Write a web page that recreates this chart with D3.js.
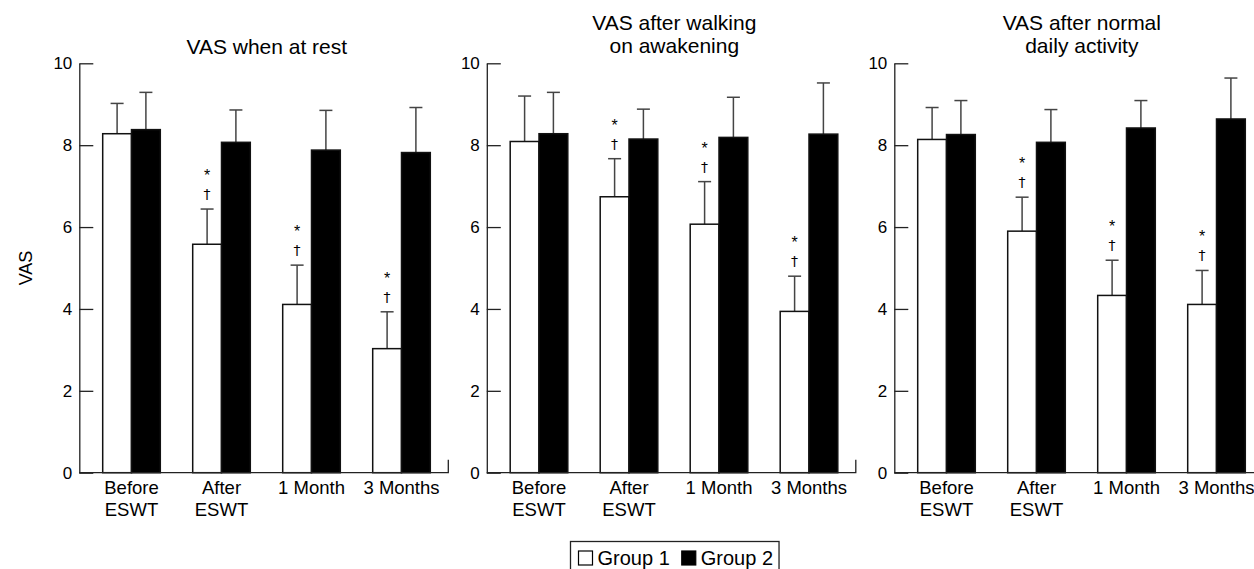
<!DOCTYPE html>
<html>
<head>
<meta charset="utf-8">
<script src="https://cdn.jsdelivr.net/npm/d3@7"></script>
<style>
body { margin: 0; background: #fff; }
text { font-family: "Liberation Sans", Arial, Helvetica, sans-serif; fill: #000; }
</style>
</head>
<body>
<svg id="chart" width="1254" height="569"></svg>
<script>
// categories, groups and panel titles
var categories = ["Before ESWT", "After ESWT", "1 Month", "3 Months"];
var catLines = [["Before", "ESWT"], ["After", "ESWT"], ["1 Month"], ["3 Months"]];
var groups = ["Group 1", "Group 2"];
var titles = [["VAS when at rest"], ["VAS after walking", "on awakening"], ["VAS after normal", "daily activity"]];

// mean VAS values
var restG1 = [8.28, 5.58, 4.11, 3.03];
var restG2 = [8.38, 8.07, 7.88, 7.82];
var walkG1 = [8.09, 6.74, 6.07, 3.94];
var walkG2 = [8.28, 8.15, 8.19, 8.27];
var dailyG1 = [8.14, 5.90, 4.33, 4.11];
var dailyG2 = [8.26, 8.07, 8.42, 8.64];

// standard deviations (upper error bars)
var restG1sd = [0.74, 0.86, 0.96, 0.90];
var restG2sd = [0.91, 0.79, 0.97, 1.10];
var walkG1sd = [1.11, 0.93, 1.04, 0.86];
var walkG2sd = [1.01, 0.73, 0.98, 1.25];
var dailyG1sd = [0.78, 0.83, 0.86, 0.83];
var dailyG2sd = [0.83, 0.80, 0.67, 1.00];

// significance marks (* and †) above group 1 bars
var signif = [false, true, true, true];

var yTicks = [0, 2, 4, 6, 8, 10];

var panels = [
  {title: titles[0], g1: restG1, g2: restG2, s1: restG1sd, s2: restG2sd},
  {title: titles[1], g1: walkG1, g2: walkG2, s1: walkG1sd, s2: walkG2sd},
  {title: titles[2], g1: dailyG1, g2: dailyG2, s1: dailyG1sd, s2: dailyG2sd}
];

var svg = d3.select("#chart");
var axisLeft0 = 79.3, panelStep = 407.5, axisLen = 369;
var yBottom = 472.7, yTop = 63.3;

var y = d3.scaleLinear().domain([0, 10]).range([yBottom, yTop]);
var colors = d3.scaleOrdinal().domain(groups).range(["#fff", "#000"]);

panels.forEach(function(p, i) {
  var x0 = axisLeft0 + i * panelStep;
  var g = svg.append("g");

  var x = d3.scaleBand().domain(categories)
    .range([x0 + 7.2, x0 + 367.2])
    .paddingInner(0.36).paddingOuter(0.18);
  var xg = d3.scaleBand().domain(groups).range([0, x.bandwidth()]);

  var rows = [];
  categories.forEach(function(c, k) {
    rows.push({cat: c, grp: groups[0], v: p.g1[k], sd: p.s1[k], sig: signif[k]});
    rows.push({cat: c, grp: groups[1], v: p.g2[k], sd: p.s2[k], sig: false});
  });
  function cx(d) { return x(d.cat) + xg(d.grp) + xg.bandwidth() / 2; }

  // error bars (drawn first so the black bar covers the lower part)
  var eb = g.selectAll(".err").data(rows).enter().append("g").attr("class", "err");
  eb.append("line")
    .attr("x1", cx).attr("x2", cx)
    .attr("y1", function(d) { return y(d.v); })
    .attr("y2", function(d) { return y(d.v + d.sd); })
    .attr("stroke", "#444").attr("stroke-width", 1.5);
  eb.append("line")
    .attr("x1", function(d) { return cx(d) - 6.5; })
    .attr("x2", function(d) { return cx(d) + 6.5; })
    .attr("y1", function(d) { return y(d.v + d.sd); })
    .attr("y2", function(d) { return y(d.v + d.sd); })
    .attr("stroke", "#444").attr("stroke-width", 1.5);

  // bars
  g.selectAll(".bar").data(rows).enter().append("rect")
    .attr("class", "bar")
    .attr("x", function(d) { return x(d.cat) + xg(d.grp); })
    .attr("width", xg.bandwidth())
    .attr("y", function(d) { return y(d.v); })
    .attr("height", function(d) { return y(0) - y(d.v); })
    .attr("fill", function(d) { return colors(d.grp); })
    .attr("stroke", "#111").attr("stroke-width", 1.5);

  // * and † marks
  var sg = g.selectAll(".sig").data(rows.filter(function(d) { return d.sig; }))
    .enter().append("g").attr("class", "sig")
    .attr("transform", function(d) { return "translate(" + cx(d) + "," + y(d.v + d.sd) + ")"; });
  sg.append("text").attr("y", -28).attr("text-anchor", "middle").attr("fill", "#000")
    .style("font-size", "16px").text("*");
  sg.append("text").attr("y", -10).attr("text-anchor", "middle").attr("fill", "#000")
    .style("font-family", "'DejaVu Sans', sans-serif")
    .style("font-size", "14px").text("†");

  // y axis
  var ya = g.append("g").attr("transform", "translate(" + x0 + ",0)")
    .call(d3.axisLeft(y).tickValues(yTicks).tickSizeInner(-14).tickSizeOuter(0).tickPadding(7));
  ya.selectAll("text").style("font-size", "17px");
  ya.selectAll("line, path").attr("stroke", "#222").attr("stroke-width", 1.3);

  // x axis
  var xa = g.append("g").attr("transform", "translate(0," + yBottom + ")")
    .call(d3.axisBottom(x).tickSize(0).tickSizeOuter(-13).tickFormat(""));
  xa.select(".domain").attr("d", "M" + x0 + ",0H" + (x0 + axisLen) + "V-13")
    .attr("stroke", "#222").attr("stroke-width", 1.3);
  xa.selectAll(".tick").each(function(d) {
    var t = d3.select(this).append("text")
      .attr("text-anchor", "middle").style("font-size", "18.5px");
    catLines[categories.indexOf(d)].forEach(function(line, j) {
      t.append("tspan").attr("x", 0).attr("y", 21 + j * 22).text(line);
    });
  });

  // title
  var tx = x0 + axisLen / 2 + 3;
  var tt = g.append("text").attr("text-anchor", "middle").style("font-size", "21px");
  p.title.forEach(function(line, j) {
    tt.append("tspan").attr("x", tx)
      .attr("y", p.title.length == 1 ? 54 : 30 + j * 23).text(line);
  });
});

// y axis label
svg.append("text")
  .attr("transform", "translate(26,268) rotate(-90)")
  .attr("text-anchor", "middle").attr("dominant-baseline", "central")
  .style("font-size", "18px").text("VAS");

// legend
var legend = svg.append("g").attr("transform", "translate(570.5,541.5)");
var box = legend.append("rect").attr("x", 0).attr("y", 0).attr("height", 40)
  .attr("fill", "none").attr("stroke", "#222").attr("stroke-width", 1.3);
var lx = 8;
groups.forEach(function(gname) {
  legend.append("rect").attr("x", lx).attr("y", 9.5).attr("width", 14).attr("height", 14)
    .attr("fill", colors(gname)).attr("stroke", "#000").attr("stroke-width", 1.2);
  var t = legend.append("text").attr("x", lx + 19).attr("y", 23)
    .style("font-size", "20px").text(gname);
  lx += 19 + t.node().getComputedTextLength() + 12;
});
box.attr("width", lx - 6);
</script>
</body>
</html>
